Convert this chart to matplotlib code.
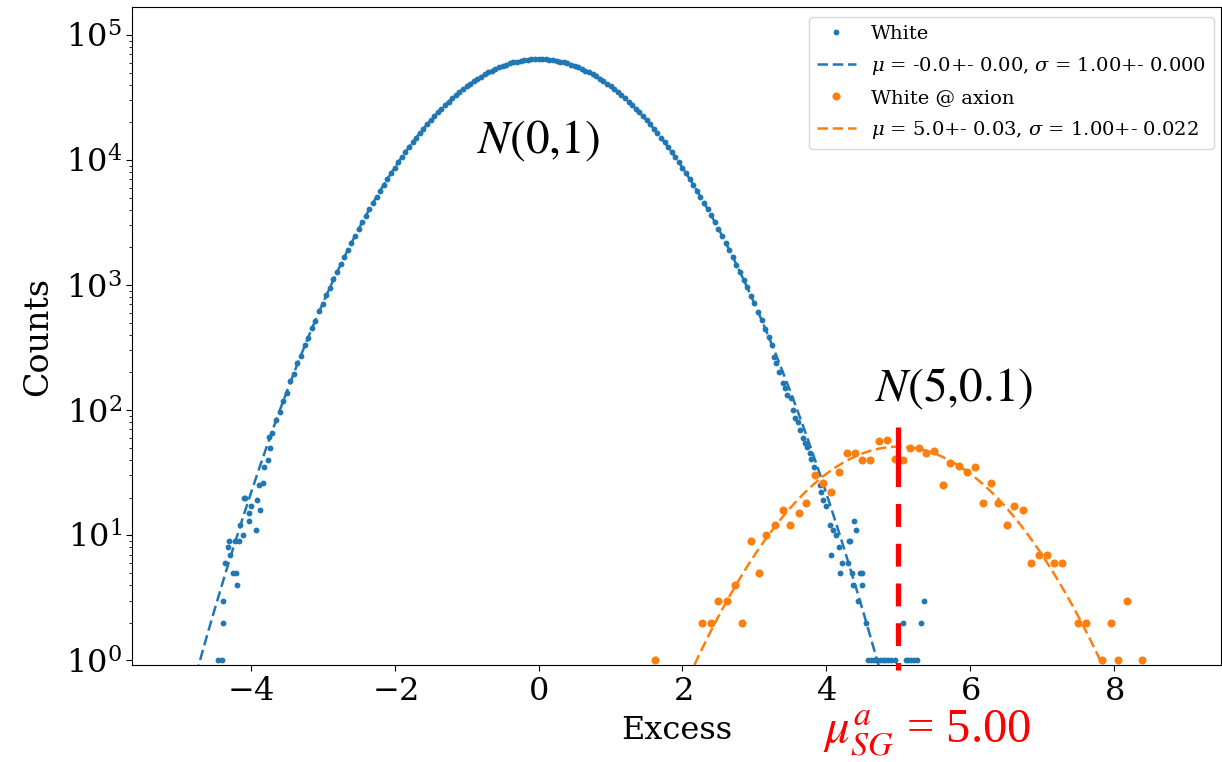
import numpy as np
import matplotlib
matplotlib.use("Agg")
import matplotlib.pyplot as plt

plt.rcParams['font.family'] = ['DejaVu Serif']
plt.rcParams['mathtext.fontset'] = 'dejavuserif'

# ---------------- data ----------------
# "White" histogram: dense core, bin centres every 0.05 from -3.70 to 3.20
white_core_start = -3.70
white_core_step = 0.05
white_core_counts = [
    66, 84, 97, 119, 138, 170, 195, 236, 272, 329,
    380, 451, 520, 615, 708, 830, 950, 1110, 1262, 1465,
    1668, 1918, 2170, 2488, 2805, 3190, 3585, 4050, 4540, 5100,
    5685, 6350, 7050, 7835, 8650, 9570, 10520, 11570, 12660, 13850,
    15080, 16410, 17790, 19260, 20770, 22370, 24010, 25740, 27480, 29310,
    31140, 33050, 34940, 36890, 38800, 40730, 42650, 44590, 46450, 48320,
    50080, 51820, 53440, 55030, 56460, 57850, 59060, 60210, 61170, 62040,
    62720, 63290, 63670, 63930, 63990, 63910, 63690, 63270, 62740, 62020,
    61190, 60180, 59090, 57820, 56490, 55000, 53470, 51800, 50100, 48290,
    46480, 44570, 42670, 40700, 38830, 36860, 34960, 33020, 31160, 29290,
    27500, 25710, 24030, 22350, 20790, 19240, 17800, 16390, 15100, 13830,
    12670, 11550, 10530, 9550, 8670, 7820, 7060, 6335, 5695, 5085,
    4550, 4035, 3598, 3175, 2818, 2470, 2185, 1905, 1675, 1452,
    1275, 1098, 958, 820, 714, 606, 528, 444, 385,
]
# "White" tails (scattered low-count bins)
white_tail_x = [
    -4.46, -4.40, -4.38, -4.39, -4.36, -4.31, -4.29, -4.30, -4.24, -4.21,
    -4.22, -4.19, -4.16, -4.15, -4.11, -4.10, -4.08, -4.03, -4.02, -4.00,
    -3.93, -3.91, -3.89, -3.87, -3.83, -3.81, -3.76, -3.74, -3.73,
    3.25, 3.27, 3.30, 3.34, 3.39, 3.42, 3.45, 3.51, 3.53, 3.57,
    3.60, 3.63, 3.67, 3.70, 3.73, 3.77, 3.79, 3.83, 3.86, 3.91,
    3.93, 3.95, 3.99, 4.05, 4.07, 4.09, 4.14, 4.175, 4.19, 4.22,
    4.30, 4.31, 4.33, 4.35, 4.37, 4.39, 4.41, 4.44, 4.46, 4.49,
    4.50, 4.55, 4.58, 4.62, 4.66, 4.70, 4.74, 4.78, 4.82, 4.86,
    4.90, 4.95, 5.06, 5.10, 5.14, 5.18, 5.22, 5.26, 5.32, 5.35,
]
white_tail_counts = [
    1, 1, 2, 3, 6, 8, 7, 9, 5, 5,
    9, 4, 9, 12, 10, 20, 20, 13, 15, 17,
    11, 19, 25, 16, 26, 35, 40, 61, 50,
    330, 267, 236, 200, 164, 150, 132, 124, 100, 86,
    80, 69, 60, 55, 51, 45, 41, 35, 30, 25,
    22, 19, 17, 12, 7, 11, 10, 8, 5, 6,
    6, 9, 9, 5, 4, 13, 11, 3, 5, 5,
    4, 2, 1, 1, 1, 1, 1, 1, 1, 1,
    1, 1, 2, 1, 1, 1, 1, 1, 2, 3,
]
# "White @ axion" histogram
axion_x = [
    1.62, 2.27, 2.39, 2.50, 2.62, 2.73, 2.83, 2.95, 3.07, 3.16,
    3.28, 3.39, 3.50, 3.62, 3.72, 3.84, 3.95, 4.06, 4.18, 4.28,
    4.40, 4.50, 4.61, 4.73, 4.84, 4.95, 5.06, 5.16, 5.28, 5.39,
    5.50, 5.62, 5.72, 5.84, 5.95, 6.06, 6.17, 6.29, 6.39, 6.51,
    6.61, 6.73, 6.84, 6.95, 7.06, 7.16, 7.28, 7.50, 7.61, 7.83,
    7.95, 8.05, 8.17, 8.39,
]
axion_counts = [
    1, 2, 2, 3, 3, 4, 2, 9, 5, 10,
    12, 16, 12, 15, 18, 30, 26, 22, 32, 45,
    45, 40, 40, 57, 58, 41, 40, 50, 50, 45,
    47, 25, 38, 36, 32, 35, 18, 26, 18, 12,
    17, 16, 6, 7, 7, 6, 6, 2, 2, 1,
    2, 1, 3, 1,
]
# Gaussian fit results: amplitude, mean, sigma
white_fit = (64000.0, 0.0, 1.00)
axion_fit = (51.0, 5.0, 1.00)
legend_labels = [
    "White",
    r"$\mu$ = -0.0+- 0.00, $\sigma$ = 1.00+- 0.000",
    "White @ axion",
    r"$\mu$ = 5.0+- 0.03, $\sigma$ = 1.00+- 0.022",
]
x_ticks = [-4, -2, 0, 2, 4, 6, 8]
mu_sg = 5.00
mu_sg_line_top = 73.5

# ---------------- plot ----------------
blue = '#1f77b4'
orange = '#ff7f0e'

fig = plt.figure(figsize=(12.22, 7.62), dpi=100)
ax = fig.add_axes([0.108, 0.127, 0.891, 0.864])

core_x = white_core_start + white_core_step * np.arange(len(white_core_counts))
wx = np.concatenate([core_x, white_tail_x])
wy = np.concatenate([white_core_counts, white_tail_counts])
order = np.argsort(wx)
wx, wy = wx[order], wy[order]

def gauss(x, a, m, s):
    return a * np.exp(-0.5 * ((x - m) / s) ** 2)

ax.plot(wx, wy, 'o', color=blue, markersize=4.2, markeredgewidth=0,
        label=legend_labels[0])
xf = np.linspace(-5.2, 5.2, 600)
ax.plot(xf, gauss(xf, *white_fit), '--', color=blue, lw=1.8,
        dashes=(4.2, 1.9), label=legend_labels[1])
ax.plot(axion_x, axion_counts, 'o', color=orange, markersize=5.8,
        markeredgewidth=0, label=legend_labels[2])
xo = np.linspace(1.5, 8.6, 400)
ax.plot(xo, gauss(xo, *axion_fit), '--', color=orange, lw=1.8,
        dashes=(4.2, 1.9), label=legend_labels[3])

ax.set_yscale('log')
ax.set_xlim(-5.65, 9.48)
ax.set_ylim(0.912, 1.675e5)
ax.set_xticks(x_ticks)
ax.set_xticklabels([f"$-{abs(t)}$" if t < 0 else f"${t}$" for t in x_ticks])
ax.tick_params(axis='both', which='major', labelsize=23, length=4)
ax.tick_params(axis='y', which='minor', length=2.5)
ax.set_xlabel("Excess", fontsize=23, labelpad=6)
ax.set_ylabel("Counts", fontsize=24, labelpad=8)

# red marker line at the signal mean
red_line, = ax.plot([mu_sg, mu_sg], [mu_sg_line_top, 0.83], color='#ff0000',
                    lw=3.8, clip_on=False, zorder=5)
red_line.set_dashes([11.3, 3.2] + [4.33, 3.2] * 6)

leg = ax.legend(loc='upper right', fontsize=14, handlelength=2.0,
                labelspacing=0.62, borderaxespad=0.35,
                bbox_to_anchor=(1.0, 0.995))

ax.text(0.0, 10 ** 4.16, r"$N(0{,}1)$", fontsize=34, ha='center',
        va='center', math_fontfamily='stix')
ax.text(5.78, 150, r"$N(5{,}0.1)$", fontsize=34, ha='center',
        va='center', math_fontfamily='stix')
fig.text(927 / 1222, 1 - 759 / 762, r"$\mu_{SG}^{a}$ = %.2f" % mu_sg,
         fontsize=35, color='#ff0000', ha='center', va='bottom',
         family='Liberation Serif', math_fontfamily='stix')

fig.savefig("out.png", dpi=100)
